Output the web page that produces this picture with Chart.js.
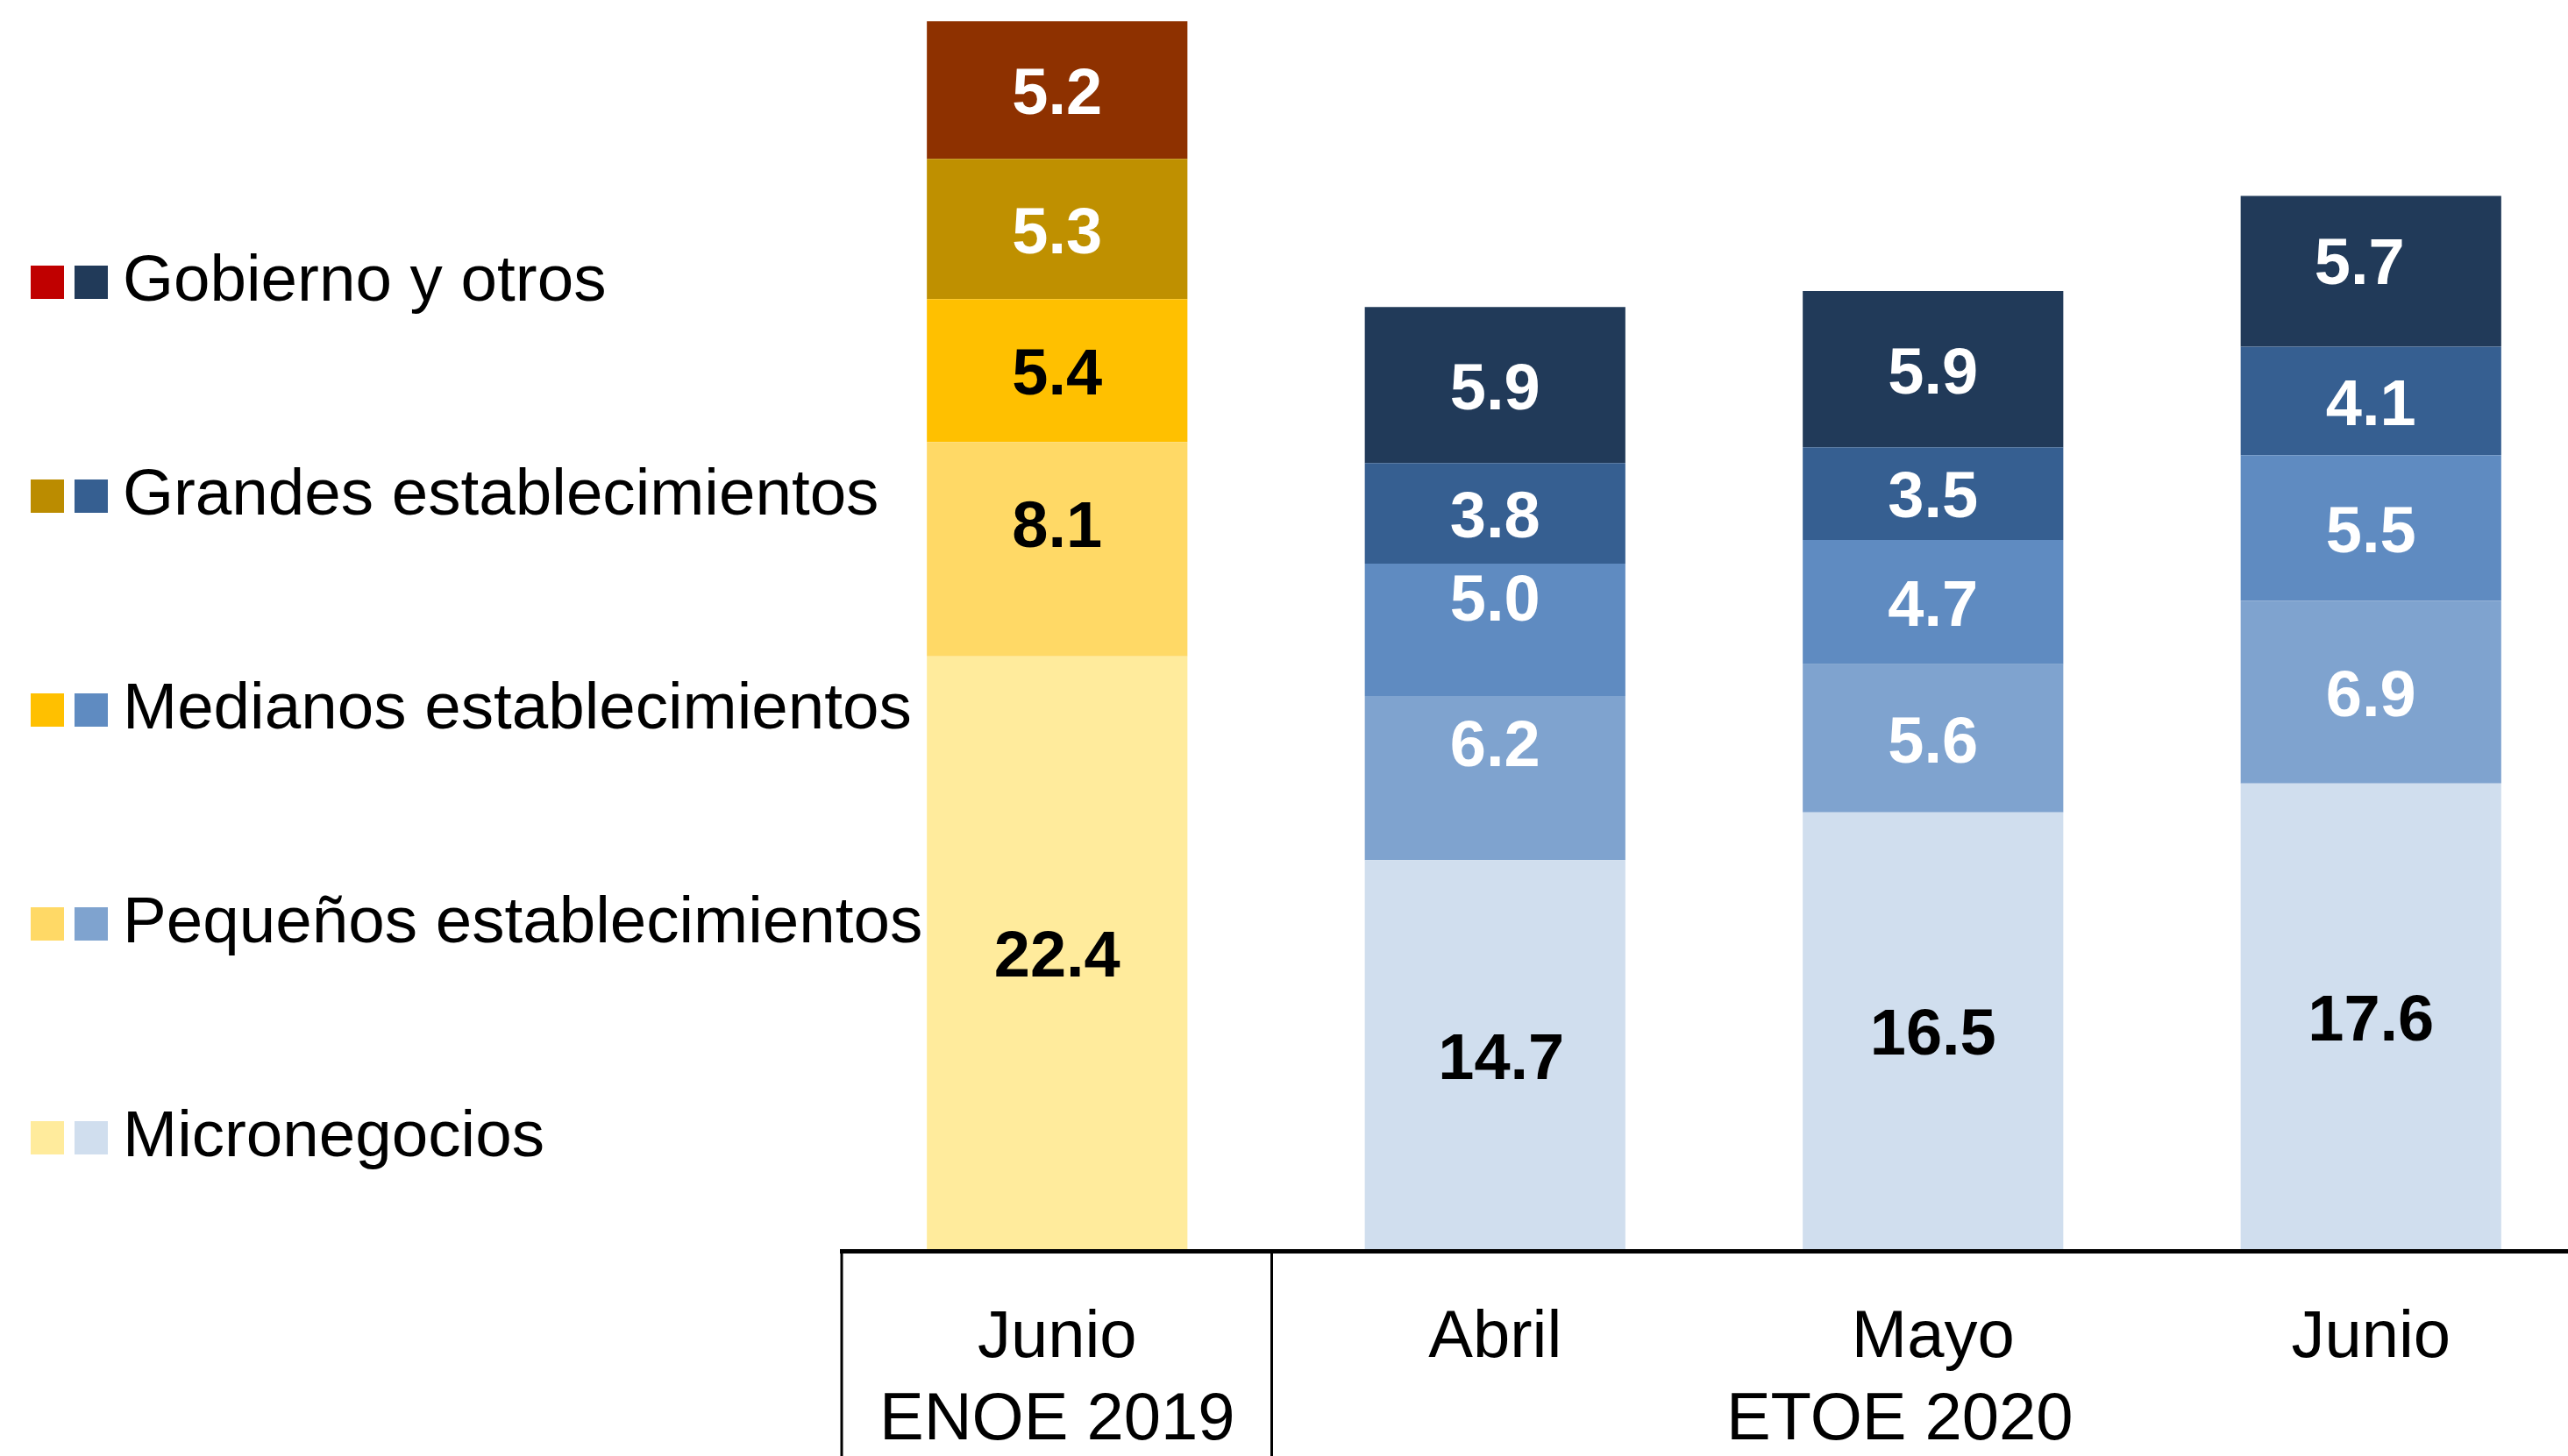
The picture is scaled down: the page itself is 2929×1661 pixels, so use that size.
<!DOCTYPE html>
<html>
<head>
<meta charset="utf-8">
<script src="https://cdn.jsdelivr.net/npm/chart.js@4.4.1/dist/chart.umd.min.js"></script>
<style>
  html, body { margin: 0; padding: 0; background: #fff; overflow: hidden; }
  #wrap { width: 2960px; height: 1661px; position: relative; }
</style>
</head>
<body>
<div id="wrap"><canvas id="barChart"></canvas></div>
<script>
// categories (x axis) and their survey groups
const months = ['Junio', 'Abril', 'Mayo', 'Junio'];
const groups = [
    { label: 'ENOE 2019', from: 0, to: 0 },
    { label: 'ETOE 2020', from: 1, to: 3 }
];

// series, bottom of the stack first
const micronegocios = [22.4, 14.7, 16.5, 17.6];
const pequenos      = [8.1, 6.2, 5.6, 6.9];
const medianos      = [5.4, 5.0, 4.7, 5.5];
const grandes       = [5.3, 3.8, 3.5, 4.1];
const gobierno      = [5.2, 5.9, 5.9, 5.7];

const FONT = "'Liberation Sans', Arial, sans-serif";

// 2019 bar uses the gold palette, 2020 bars the blue one
function colors(gold, blue) {
    return months.map((m, i) => i === 0 ? gold : blue);
}

const ctx = document.getElementById('barChart');

const datasets = [
    { label: 'Micronegocios', data: micronegocios, backgroundColor: colors('#FFEB9C', '#D0DEEE'), legend: ['#FFEB9C', '#D0DEEE'] },
    { label: 'Pequeños establecimientos', data: pequenos, backgroundColor: colors('#FFD966', '#7FA3CF'), legend: ['#FFD966', '#7FA3CF'] },
    { label: 'Medianos establecimientos', data: medianos, backgroundColor: colors('#FFC000', '#5F8BC1'), legend: ['#FFC000', '#5F8BC1'] },
    { label: 'Grandes establecimientos', data: grandes, backgroundColor: colors('#BF9000', '#365F91'), legend: ['#BB8C00', '#365F91'] },
    { label: 'Gobierno y otros', data: gobierno, backgroundColor: colors('#8E3100', '#213A59'), legend: ['#C00000', '#213A59'] }
];

// a few labels sit off-centre in the original ("dataset:index" -> [dx, dy])
const labelNudge = { '2:1': [0, -38], '1:1': [0, -41], '1:0': [0, -30], '4:3': [-13, -13], '0:1': [7, 0] };

function isDark(hex) {
    const r = parseInt(hex.substr(1, 2), 16), g = parseInt(hex.substr(3, 2), 16), b = parseInt(hex.substr(5, 2), 16);
    return 0.299 * r + 0.587 * g + 0.114 * b < 170;
}

// value labels inside the segments
const valueLabels = {
    id: 'valueLabels',
    afterDatasetsDraw(chart) {
        const c = chart.ctx;
        c.save();
        c.font = 'bold 74px ' + FONT;
        c.textAlign = 'center';
        c.textBaseline = 'middle';
        chart.data.datasets.forEach((ds, di) => {
            chart.getDatasetMeta(di).data.forEach((bar, i) => {
                const n = labelNudge[di + ':' + i] || [0, 0];
                c.fillStyle = isDark(ds.backgroundColor[i]) ? '#ffffff' : '#000000';
                c.fillText(ds.data[i].toFixed(1), bar.x + n[0], (bar.y + bar.base) / 2 + 7 + n[1]);
            });
        });
        c.restore();
    }
};

// category table under the bars and the two-swatch legend on the left
const tableAndLegend = {
    id: 'tableAndLegend',
    afterDraw(chart) {
        const c = chart.ctx;
        const x = chart.scales.x;
        const area = chart.chartArea;
        const step = x.getPixelForValue(1) - x.getPixelForValue(0);
        c.save();
        c.strokeStyle = '#000';
        c.lineWidth = 5;
        c.beginPath();
        c.moveTo(area.left + 2, area.bottom + 2.5);
        c.lineTo(area.right, area.bottom + 2.5);
        c.stroke();
        c.lineWidth = 3;
        groups.forEach((g, gi) => {
            const lx = x.getPixelForValue(g.from) - step / 2;
            c.beginPath();
            c.moveTo(lx + (gi === 0 ? 4 : -5), area.bottom);
            c.lineTo(lx + (gi === 0 ? 4 : -5), chart.height);
            c.stroke();
        });

        c.fillStyle = '#000';
        c.font = '76px ' + FONT;
        c.textAlign = 'center';
        c.textBaseline = 'middle';
        months.forEach((m, i) => c.fillText(m, x.getPixelForValue(i), 1527));
        groups.forEach(g => {
            const gx = (x.getPixelForValue(g.from) + x.getPixelForValue(g.to)) / 2;
            c.fillText(g.label, gx - (g.to > g.from ? 38 : 0), 1621);
        });

        // legend, top item = top of the stack
        c.font = '74.6px ' + FONT;
        c.textAlign = 'left';
        const items = chart.data.datasets.slice().reverse();
        items.forEach((ds, k) => {
            const y = 322 + k * 244;
            c.fillStyle = ds.legend[0];
            c.fillRect(35, y - 19, 38, 38);
            c.fillStyle = ds.legend[1];
            c.fillRect(85, y - 19, 38, 38);
            c.fillStyle = '#000';
            c.fillText(ds.label, 140, y);
        });
        c.restore();
    }
};

new Chart(ctx, {
    type: 'bar',
    data: {
        labels: months,
        datasets: datasets
    },
    options: {
        responsive: true,
        maintainAspectRatio: false,
        animation: false,
        layout: {
            padding: { left: 956, right: 6, top: 0, bottom: 236 }
        },
        datasets: {
            bar: {
                categoryPercentage: 0.595,
                barPercentage: 1,
                borderWidth: 0
            }
        },
        plugins: {
            legend: { display: false },
            tooltip: { enabled: false }
        },
        scales: {
            x: { stacked: true, display: false },
            y: { stacked: true, display: false, min: 0, max: 47.2 }
        }
    },
    plugins: [valueLabels, tableAndLegend]
});
</script>
</body>
</html>
